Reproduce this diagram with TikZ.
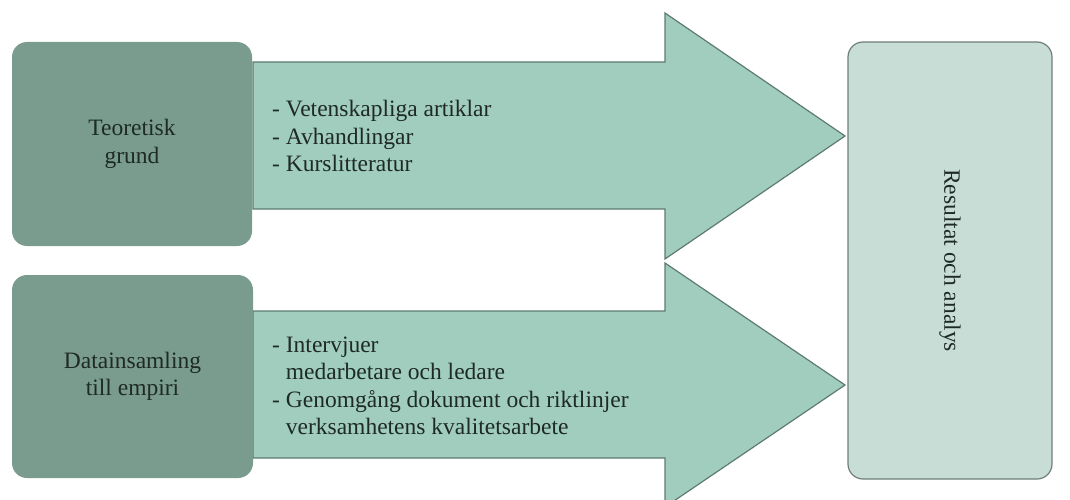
\documentclass[tikz,border=0pt]{standalone}
\usepackage{fontspec}
\setmainfont{Liberation Serif}
\usepackage{tikz}
\usetikzlibrary{positioning}

\definecolor{boxgreen}{HTML}{7A9C8E}
\definecolor{arrowfill}{HTML}{A1CDBF}
\definecolor{arrowline}{HTML}{5E7B70}
\definecolor{resfill}{HTML}{C9DDD7}
\definecolor{resline}{HTML}{6E7E79}
\definecolor{txt}{HTML}{1E2A24}

\tikzset{
	source/.style={fill=boxgreen, rounded corners=15pt, inner sep=0pt, outer sep=0pt, align=center, text=txt},
	bigarrow/.style={fill=arrowfill, draw=arrowline, line width=1.2pt, line join=miter},
	result/.style={fill=resfill, draw=resline, line width=1.2pt, rounded corners=15pt, inner sep=0pt, align=center, text=txt},
	items/.style={anchor=west, align=left, inner sep=0pt, text=txt}
}

\begin{document}
\begin{tikzpicture}[x=1pt, y=-1pt, font=\fontsize{23.5}{27.5}\selectfont]
	\useasboundingbox (0,0) rectangle (1070,500);
	\draw [bigarrow] (253,62) -- (665,62) -- (665,13) -- (845,136) -- (665,259) -- (665,209) -- (253,209) -- cycle;
	\draw [bigarrow] (253,311) -- (665,311) -- (665,263) -- (845,385) -- (665,507) -- (665,458) -- (253,458) -- cycle;
	\node [source, minimum width=240pt, minimum height=204pt] at (132,144) (TG) {Teoretisk\\grund};
	\node [source, minimum width=241pt, minimum height=203pt] at (132.5,376.5) (DE) {Datainsamling\\till empiri};
	\node [result, minimum width=204pt, minimum height=437pt] at (950,260.5) (RA) {};
	\node [rotate=-90, text=txt] at (RA.center) (RAtext) {Resultat och analys};
	\node [items] at (272,136) (TGlist) {- Vetenskapliga artiklar\\- Avhandlingar\\- Kurslitteratur};
	\node [items] at (272,386) (DElist) {- Intervjuer\\\hphantom{- }medarbetare och ledare\\- Genomgång dokument och riktlinjer\\\hphantom{- }verksamhetens kvalitetsarbete};
\end{tikzpicture}
\end{document}
